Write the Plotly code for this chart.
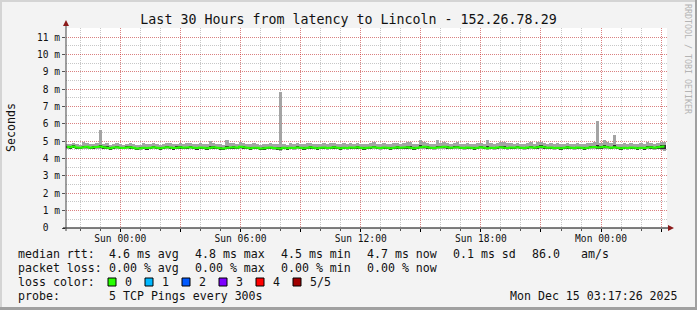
import plotly.graph_objects as go
import pandas as pd

# ---------------- data ----------------
TITLE = "Last 30 Hours from latency to Lincoln - 152.26.78.29"
START = "2025-12-13 21:17:26"
END = "2025-12-15 03:17:26"
FIRST_BIN = "2025-12-13 21:20:00"   # 10-minute bins (centres)

median_ms = [
    4.68,4.66,4.70,4.64,4.62,4.66,4.68,4.63,4.65,4.67,4.70,4.66,4.62,4.60,4.64,4.66,4.63,4.61,4.64,4.66,
    4.62,4.58,4.60,4.62,4.61,4.63,4.65,4.62,4.60,4.63,4.66,4.64,4.61,4.63,4.65,4.62,4.64,4.66,4.63,4.61,
    4.64,4.62,4.60,4.63,4.65,4.62,4.60,4.58,4.62,4.64,4.66,4.63,4.68,4.65,4.62,4.60,4.63,4.62,4.58,4.60,
    4.62,4.64,4.61,4.60,4.58,4.62,4.60,4.63,4.61,4.64,4.62,4.60,4.63,4.65,4.62,4.60,4.62,4.64,4.61,4.63,
    4.65,4.62,4.60,4.63,4.61,4.64,4.62,4.65,4.63,4.60,4.62,4.64,4.66,4.63,4.61,4.64,4.62,4.60,4.63,4.65,
    4.62,4.64,4.66,4.63,4.60,4.62,4.65,4.68,4.66,4.63,4.61,4.64,4.66,4.68,4.65,4.62,4.64,4.66,4.63,4.61,
    4.64,4.62,4.60,4.63,4.65,4.62,4.60,4.63,4.61,4.64,4.66,4.63,4.61,4.64,4.62,4.65,4.63,4.61,4.64,4.66,
    4.63,4.66,4.68,4.65,4.62,4.64,4.61,4.63,4.60,4.62,4.65,4.63,4.61,4.64,4.62,4.60,4.63,4.65,4.67,4.64,
    4.66,4.68,4.65,4.63,4.66,4.62,4.60,4.63,4.61,4.64,4.62,4.60,4.63,4.61,4.64,4.66,4.63,4.65,4.68,4.70,
]
smoke_min_ms = [
    4.58,4.56,4.60,4.55,4.54,4.57,4.58,4.55,4.56,4.57,4.58,4.56,4.54,4.52,4.55,4.57,4.55,4.53,4.55,4.57,
    4.54,4.50,4.52,4.54,4.53,4.55,4.56,4.54,4.52,4.54,4.57,4.55,4.53,4.54,4.56,4.54,4.55,4.57,4.54,4.52,
    4.55,4.54,4.52,4.54,4.56,4.53,4.52,4.50,4.54,4.55,4.57,4.54,4.58,4.56,4.53,4.52,4.54,4.53,4.50,4.52,
    4.53,4.55,4.52,4.51,4.46,4.53,4.52,4.54,4.52,4.55,4.53,4.52,4.54,4.56,4.53,4.52,4.53,4.55,4.52,4.54,
    4.56,4.53,4.51,4.54,4.52,4.55,4.53,4.56,4.54,4.52,4.53,4.55,4.57,4.54,4.52,4.55,4.53,4.51,4.54,4.56,
    4.53,4.55,4.57,4.54,4.51,4.53,4.56,4.58,4.57,4.54,4.52,4.55,4.57,4.58,4.56,4.53,4.55,4.57,4.54,4.52,
    4.55,4.53,4.51,4.54,4.56,4.53,4.51,4.54,4.52,4.55,4.57,4.54,4.52,4.55,4.53,4.56,4.54,4.52,4.55,4.57,
    4.54,4.57,4.58,4.56,4.53,4.55,4.52,4.54,4.51,4.53,4.56,4.54,4.52,4.55,4.53,4.51,4.54,4.56,4.58,4.55,
    4.57,4.58,4.56,4.54,4.57,4.53,4.51,4.54,4.52,4.55,4.53,4.51,4.54,4.47,4.55,4.57,4.48,4.56,4.50,4.45,
]
smoke_max_ms = [
    4.86,4.84,4.92,4.82,4.80,4.95,4.88,4.82,4.86,4.90,5.66,4.86,4.92,4.80,4.84,4.88,4.82,4.80,4.86,4.90,
    4.82,4.78,4.80,4.88,4.82,4.86,4.90,4.82,4.80,4.86,4.92,4.88,4.82,4.86,4.90,4.82,4.88,4.92,4.84,4.82,
    4.88,4.84,4.82,5.02,4.92,4.84,4.82,4.78,5.08,4.90,4.92,4.86,4.95,4.90,4.84,4.82,4.88,4.84,4.78,4.82,
    4.84,4.90,4.82,4.82,7.85,4.86,4.80,4.88,4.82,4.90,4.84,4.82,4.88,4.92,4.84,4.82,4.86,4.90,4.82,4.88,
    4.92,4.84,4.82,4.88,4.82,4.90,4.84,4.92,4.86,4.82,4.84,4.90,4.94,4.86,4.82,4.90,4.84,4.82,4.88,4.92,
    4.84,4.90,4.94,4.98,4.82,4.86,5.08,4.95,4.92,4.86,4.82,5.08,4.92,4.96,4.90,4.84,4.90,4.94,4.86,4.82,
    4.90,4.84,4.82,4.88,4.92,4.84,5.06,4.88,4.82,4.90,4.94,4.95,4.92,4.90,4.84,4.92,4.86,4.82,4.90,4.94,
    4.86,4.94,4.96,4.90,4.84,4.90,4.82,4.88,4.82,4.84,4.92,4.86,4.82,4.90,4.84,4.82,4.88,4.92,4.95,6.18,
    4.92,5.10,4.96,4.90,5.35,4.86,4.82,4.90,4.84,4.92,4.86,4.82,4.90,4.84,4.95,4.92,4.86,4.90,4.96,4.98,
]
core_low_ms = [
    4.63,4.61,4.64,4.58,4.57,4.61,4.62,4.56,4.60,4.62,4.62,4.60,4.57,4.54,4.59,4.61,4.58,4.56,4.59,4.60,
    4.56,4.52,4.55,4.57,4.55,4.58,4.60,4.56,4.55,4.57,4.60,4.59,4.55,4.58,4.60,4.57,4.58,4.61,4.57,4.55,
    4.59,4.57,4.54,4.58,4.60,4.57,4.55,4.52,4.57,4.59,4.61,4.58,4.62,4.60,4.57,4.55,4.58,4.57,4.53,4.55,
    4.57,4.59,4.56,4.55,4.51,4.57,4.55,4.58,4.56,4.59,4.57,4.55,4.58,4.60,4.57,4.55,4.57,4.59,4.56,4.58,
    4.60,4.57,4.55,4.58,4.56,4.59,4.57,4.60,4.58,4.55,4.57,4.59,4.61,4.58,4.56,4.59,4.57,4.55,4.58,4.60,
    4.57,4.59,4.61,4.57,4.54,4.57,4.60,4.62,4.61,4.58,4.56,4.59,4.61,4.63,4.60,4.57,4.59,4.61,4.58,4.56,
    4.59,4.57,4.55,4.58,4.60,4.57,4.54,4.58,4.56,4.59,4.61,4.58,4.56,4.59,4.57,4.60,4.58,4.56,4.59,4.61,
    4.58,4.61,4.63,4.60,4.57,4.59,4.56,4.58,4.55,4.57,4.60,4.58,4.56,4.59,4.57,4.55,4.58,4.60,4.62,4.58,
    4.61,4.62,4.60,4.58,4.60,4.57,4.55,4.58,4.56,4.59,4.57,4.55,4.58,4.52,4.59,4.61,4.53,4.60,4.58,4.55,
]
core_high_ms = [
    4.74,4.71,4.78,4.69,4.67,4.74,4.72,4.68,4.70,4.75,4.78,4.71,4.70,4.65,4.69,4.74,4.68,4.66,4.72,4.71,
    4.67,4.63,4.68,4.67,4.66,4.68,4.72,4.67,4.65,4.68,4.73,4.69,4.66,4.70,4.70,4.67,4.69,4.74,4.68,4.66,
    4.69,4.67,4.65,4.71,4.70,4.67,4.65,4.63,4.70,4.69,4.71,4.68,4.75,4.70,4.67,4.65,4.68,4.67,4.63,4.65,
    4.67,4.69,4.66,4.65,4.66,4.67,4.65,4.68,4.66,4.72,4.67,4.65,4.68,4.70,4.67,4.65,4.67,4.69,4.66,4.68,
    4.70,4.67,4.65,4.68,4.66,4.69,4.67,4.70,4.68,4.65,4.67,4.69,4.73,4.68,4.66,4.69,4.67,4.65,4.68,4.70,
    4.67,4.69,4.71,4.74,4.65,4.67,4.76,4.75,4.71,4.68,4.66,4.75,4.73,4.75,4.70,4.67,4.71,4.73,4.68,4.66,
    4.69,4.67,4.65,4.68,4.72,4.67,4.74,4.68,4.66,4.69,4.73,4.70,4.68,4.69,4.67,4.72,4.68,4.66,4.69,4.73,
    4.68,4.71,4.76,4.70,4.67,4.69,4.66,4.68,4.65,4.67,4.70,4.68,4.66,4.69,4.67,4.65,4.68,4.72,4.74,4.78,
    4.71,4.76,4.72,4.68,4.78,4.67,4.65,4.68,4.66,4.69,4.67,4.65,4.68,4.66,4.74,4.71,4.68,4.70,4.76,4.78,
]

y_ticks = [0, 1, 2, 3, 4, 5, 6, 7, 8, 9, 10, 11]
y_ticktext = ["0\u00a0\u00a0", "1 m", "2 m", "3 m", "4 m", "5 m", "6 m", "7 m", "8 m", "9 m", "10 m", "11 m"]
x_ticks = ["2025-12-14 00:00", "2025-12-14 03:00", "2025-12-14 06:00", "2025-12-14 09:00",
           "2025-12-14 12:00", "2025-12-14 15:00", "2025-12-14 18:00", "2025-12-14 21:00",
           "2025-12-15 00:00", "2025-12-15 03:00"]
x_ticktext = ["Sun 00:00", "", "Sun 06:00", "", "Sun 12:00", "", "Sun 18:00", "", "Mon 00:00", ""]

loss_labels = ["0", "1", "2", "3", "4", "5/5"]
loss_colors = ["#26ff00", "#00b8ff", "#0059ff", "#7e00ff", "#ff0000", "#a00000"]

legend_rows = [
    [(16, "median rtt:"), (107, "4.6 ms avg"), (193, "4.8 ms max"), (279, "4.5 ms min"),
     (365, "4.7 ms now"), (451, "0.1 ms sd"), (530, "86.0"), (579, "am/s")],
    [(16, "packet loss:"), (107, "0.00 % avg"), (193, "0.00 % max"), (279, "0.00 % min"),
     (365, "0.00 % now")],
    [(16, "loss color:")],
    [(16, "probe:"), (107, "5 TCP Pings every 300s")],
]
legend_row_y = [254, 268, 282, 296]
STAMP = "Mon Dec 15 03:17:26 2025"

# ---------------- layout geometry ----------------
W, H = 697, 310
L, R, T, B = 66, 30, 28, 82
PW, PH = W - L - R, H - T - B
MONO = "DejaVu Sans Mono"


def px(xp):
    return (xp - L) / PW


def py(yp):
    return (H - B - yp) / PH


times = pd.date_range(FIRST_BIN, periods=len(median_ms), freq="10min")
BIN_MS = 10 * 60 * 1000

fig = go.Figure()
fig.add_trace(go.Bar(
    x=times, base=smoke_min_ms, y=[h - l for h, l in zip(smoke_max_ms, smoke_min_ms)],
    width=BIN_MS, marker=dict(color="#a4a4a4", line=dict(width=0)), hoverinfo="skip",
))
fig.add_trace(go.Bar(
    x=times, base=core_low_ms, y=[h - l for h, l in zip(core_high_ms, core_low_ms)],
    width=BIN_MS, marker=dict(color="#2e2e2e", line=dict(width=0)), hoverinfo="skip",
))
fig.add_trace(go.Scatter(
    x=times, y=median_ms, mode="lines", line=dict(color="#26ff00", width=2, shape="hvh"),
    hoverinfo="skip",
))

MAJ = "rgba(255,0,0,0.35)"
MIN = "rgba(0,0,0,0.22)"

fig.update_xaxes(
    type="date", range=[START, END], tickmode="array", tickvals=x_ticks, ticktext=x_ticktext,
    showgrid=True, gridcolor=MAJ, griddash="1px,1px", gridwidth=1,
    ticks="outside", ticklen=3, tickcolor="#000", tickwidth=1, ticklabelstandoff=-2,
    tickfont=dict(family=MONO, size=9.6, color="#111"),
    minor=dict(tickmode="linear", tick0="2025-12-14 00:00", dtick=3600000, showgrid=True,
               gridcolor=MIN, griddash="1px,1px", ticks="outside", ticklen=2, tickcolor="#555"),
    showline=False, zeroline=False, fixedrange=True,
)
fig.update_yaxes(
    range=[0, 11.53], tickmode="array", tickvals=y_ticks, ticktext=y_ticktext,
    showgrid=True, gridcolor=MAJ, griddash="1px,1px", gridwidth=1,
    ticks="outside", ticklen=3, tickcolor="#555",
    tickfont=dict(family=MONO, size=9.6, color="#111"),
    minor=dict(tickmode="linear", tick0=0, dtick=0.5, showgrid=True,
               gridcolor=MIN, griddash="1px,1px", ticks=""),
    showline=False, zeroline=False, fixedrange=True,
)

shapes = []
# frame of the image
shapes.append(dict(type="rect", xref="paper", yref="paper", x0=px(0), x1=px(W), y0=py(2), y1=py(0),
                   line=dict(width=0), fillcolor="#d4d4d4"))
shapes.append(dict(type="rect", xref="paper", yref="paper", x0=px(0), x1=px(2), y0=py(H), y1=py(0),
                   line=dict(width=0), fillcolor="#d4d4d4"))
shapes.append(dict(type="rect", xref="paper", yref="paper", x0=px(0), x1=px(W), y0=py(H), y1=py(H - 3),
                   line=dict(width=0), fillcolor="#a0a0a0"))
shapes.append(dict(type="rect", xref="paper", yref="paper", x0=px(W - 2), x1=px(W), y0=py(H), y1=py(0),
                   line=dict(width=0), fillcolor="#a0a0a0"))
# axes with arrows
shapes.append(dict(type="line", xref="paper", yref="paper", x0=px(63), x1=px(670), y0=0, y1=0,
                   line=dict(color="#000", width=1)))
shapes.append(dict(type="line", xref="paper", yref="paper", x0=0, x1=0, y0=py(231), y1=py(23),
                   line=dict(color="#444", width=1)))
shapes.append(dict(type="path", xref="paper", yref="paper",
                   path=f"M {px(668)} {py(225)} L {px(674)} {py(228)} L {px(668)} {py(231)} Z",
                   fillcolor="#8b1a1a", line=dict(width=0)))
shapes.append(dict(type="path", xref="paper", yref="paper",
                   path=f"M {px(63)} {py(26)} L {px(66)} {py(20)} L {px(69)} {py(26)} Z",
                   fillcolor="#8b1a1a", line=dict(width=0)))
# loss colour boxes
for i, c in enumerate(loss_colors):
    x0 = 108 + 37 * i
    shapes.append(dict(type="rect", xref="paper", yref="paper", x0=px(x0), x1=px(x0 + 8),
                       y0=py(286), y1=py(278), fillcolor=c, line=dict(color="#000", width=1)))

annotations = []
font = dict(family=MONO, size=11.6, color="#111")
for row, yv in zip(legend_rows, legend_row_y):
    for xv, txt in row:
        annotations.append(dict(text=txt.replace(" ", "\u00a0"), x=px(xv), y=py(yv), xref="paper",
                                yref="paper", xanchor="left", yanchor="middle", showarrow=False,
                                font=font))
for i, lab in enumerate(loss_labels):
    annotations.append(dict(text=lab, x=px(123 + 37 * i), y=py(282), xref="paper", yref="paper",
                            xanchor="left", yanchor="middle", showarrow=False, font=font))
annotations.append(dict(text=STAMP.replace(" ", "\u00a0"), x=px(680), y=py(296), xref="paper",
                        yref="paper", xanchor="right", yanchor="middle", showarrow=False, font=font))
annotations.append(dict(text="Seconds", x=px(11), y=py(128), xref="paper", yref="paper",
                        xanchor="center", yanchor="middle", textangle=-90, showarrow=False, font=font))
annotations.append(dict(text="RRDTOOL\u00a0/\u00a0TOBI\u00a0OETIKER", x=px(688), y=py(59), xref="paper",
                        yref="paper", xanchor="center", yanchor="middle", textangle=90, showarrow=False,
                        font=dict(family=MONO, size=8.3, color="#b4b4b4")))

fig.update_layout(
    width=W, height=H, margin=dict(l=L, r=R, t=T, b=B, pad=0),
    paper_bgcolor="#f3f3f3", plot_bgcolor="#ffffff",
    barmode="overlay", bargap=0, showlegend=False,
    title=dict(text=TITLE, x=0.5, xref="container", xanchor="center",
               y=1 - 19.3 / H, yref="container", yanchor="middle",
               font=dict(family=MONO, size=13.3, color="#111")),
    shapes=shapes, annotations=annotations,
)

fig.write_html("out.html", config={"displayModeBar": False})
